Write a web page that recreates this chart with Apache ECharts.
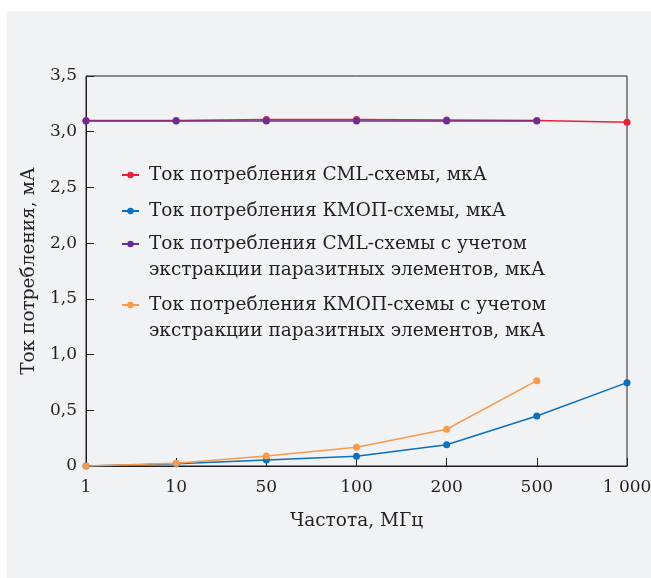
<!DOCTYPE html>
<html><head><meta charset="utf-8">
<script src="https://cdn.jsdelivr.net/npm/echarts@6/dist/echarts.min.js"></script>
<style>
html,body{margin:0;padding:0;background:#fff;}
#bg{position:absolute;left:7px;top:11px;width:644px;height:567px;background:#f1f2f4;}
#chart{position:absolute;left:0;top:0;width:651px;height:578px;}
</style></head>
<body>
<div id="bg"></div>
<div id="chart"></div>
<script>
const categories = ['1', '10', '50', '100', '200', '500', '1 000'];
const cmlValues = [3.10, 3.10, 3.11, 3.11, 3.105, 3.10, 3.085];
const cmosValues = [0, 0.02, 0.054, 0.087, 0.19, 0.449, 0.748];
const cmlParasiticValues = [3.097, 3.097, 3.097, 3.097, 3.097, 3.097];
const cmosParasiticValues = [0, 0.024, 0.09, 0.168, 0.33, 0.766];
const yTicks = [0, 0.5, 1.0, 1.5, 2.0, 2.5, 3.0, 3.5];

const names = [
  'Ток потребления CML-схемы, мкА',
  'Ток потребления КМОП-схемы, мкА',
  'Ток потребления CML-схемы с учетом\nэкстракции паразитных элементов, мкА',
  'Ток потребления КМОП-схемы с учетом\nэкстракции паразитных элементов, мкА'
];
const colors = ['#e8203c', '#0b6fbe', '#6b2c93', '#f79a4c'];
const FONT = 'DejaVu Serif';
const TXT = '#231f20';

const chart = echarts.init(document.getElementById('chart'));
const legendTops = [162, 198, 205, 266];
const legends = names.map((n, i) => ({
  left: 121, top: legendTops[i], orient: 'vertical', padding: 0,
  itemWidth: 17, itemHeight: 8,
  data: [n],
  formatter: name => name.indexOf('\n') >= 0 ? '\n' + name : name,
  textStyle: {fontFamily: FONT, fontSize: 18.5, color: TXT, lineHeight: 26, padding: [0, 0, 0, 5]}
}));

function mkSeries(i, data) {
  return {
    name: names[i], type: 'line', data: data,
    symbol: 'circle', symbolSize: 7,
    lineStyle: {color: colors[i], width: 1.5},
    itemStyle: {color: colors[i]},
    emphasis: {disabled: true}
  };
}

chart.setOption({
  animation: false,
  backgroundColor: 'transparent',
  legend: legends,
  grid: {left: 86, right: 24, top: 76, bottom: 112, outerBoundsMode: 'none', containLabel: false,
    show: true, borderColor: '#231f20', borderWidth: 1},
  xAxis: {
    type: 'category', data: categories, boundaryGap: false,
    name: 'Частота, МГц', nameLocation: 'middle', nameGap: 46,
    nameTextStyle: {fontFamily: FONT, fontSize: 18.5, color: TXT},
    axisLine: {lineStyle: {color: '#231f20', width: 1}},
    axisTick: {inside: true, length: 8, lineStyle: {color: '#231f20'}},
    axisLabel: {fontFamily: FONT, fontSize: 17, color: TXT, margin: 13}
  },
  yAxis: {
    type: 'value', min: yTicks[0], max: yTicks[yTicks.length - 1], interval: 0.5,
    name: 'Ток потребления, мА', nameLocation: 'middle', nameGap: 44,
    nameTextStyle: {fontFamily: FONT, fontSize: 18.5, color: TXT},
    splitLine: {show: false},
    axisLine: {show: true, lineStyle: {color: '#231f20', width: 1}},
    axisTick: {show: true, inside: true, length: 8, lineStyle: {color: '#231f20'}},
    axisLabel: {fontFamily: FONT, fontSize: 17, color: TXT, margin: 9,
      formatter: v => v === 0 ? '0' : v.toFixed(1).replace('.', ',')}
  },
  series: [
    mkSeries(0, cmlValues),
    mkSeries(1, cmosValues),
    mkSeries(2, cmlParasiticValues),
    mkSeries(3, cmosParasiticValues)
  ]
});
</script>
</body></html>
